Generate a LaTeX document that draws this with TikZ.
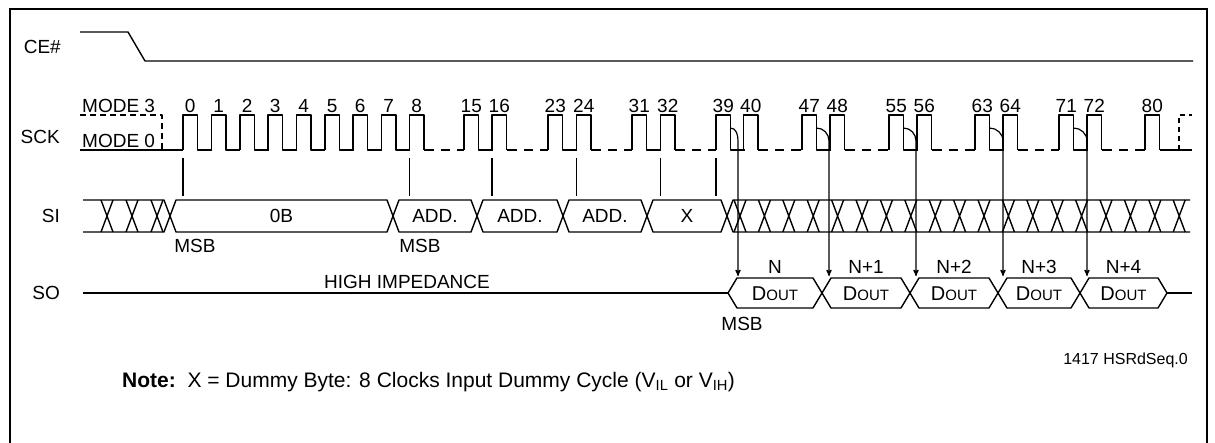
\documentclass[tikz,border=0pt]{standalone}
\usepackage{fontspec}
\setmainfont{Liberation Sans}
\usetikzlibrary{arrows}
\newcommand{\doutlabel}{{\fontsize{20}{22}\selectfont D}{\fontsize{15}{17}\selectfont OUT}}
\tikzset{
x=1pt, y=-1pt, % one unit per pixel of the sheet, y runs downwards
>=stealth', % small filled heads on the clock-to-output arrows
wave/.style={line width=1.4pt, line join=round}, % signal traces
gapline/.style={wave, dash pattern=on 10pt off 7pt on 9pt off 7pt}, % skipped clocks
txt/.style={font=\fontsize{19}{22}\selectfont, inner sep=0pt}, % labels
}

\begin{document}
\begin{tikzpicture}
\useasboundingbox (0,0) rectangle (1215,442);
\draw[line width=1.5pt] (10,9) rectangle (1207,470);

% signal names
\node[txt, anchor=east] (ce) at (61,47) {CE\#};
\node[txt, anchor=east] (sck) at (60,137) {SCK};
\node[txt, anchor=east] (si) at (60,216) {SI};
\node[txt, anchor=east] (so) at (60,293) {SO};

% CE#
\draw[wave] (80,32) -- (128,32) -- (145,61) -- (1193,61);

% SCK
\node[txt, anchor=base west] (mthree) at (82,112) {MODE 3};
\node[txt, anchor=base west] (mzero) at (82,147) {MODE 0};
\draw[wave, dash pattern=on 6pt off 4pt] (80,115) -- (162,115) -- (162,150);
\draw[wave] (80,150) -- (183,150) (1159.5,150) -- (1192,150);
\foreach \xa/\xb in {424/464, 506.5/548, 591/632, 675/716, 758/802, 844.5/889, 931.5/975, 1017.5/1059, 1101.5/1145}
  \draw[gapline] (\xa,150) -- (\xb,150);
% rising edge / label / low tail up to the next rising edge
\foreach \r/\n/\tl in {183/0/14, 211.5/1/14, 240/2/14, 268/3/14, 296.5/4/14, 325/5/14, 353/6/14, 381.5/7/14, 409.5/8/0,
    464/15/14, 492/16/0, 548/23/14, 576.5/24/0, 632/31/14, 660.5/32/0, 716/39/14, 743.5/40/0, 802/47/14, 830/48/0,
    889/55/14, 917/56/0, 975/63/14, 1003/64/0, 1059/71/14, 1087/72/0, 1145/80/0} {
  \draw[wave] (\r,150) -- (\r,115) -- ({\r+14.5},115) -- ({\r+14.5},150) -- ({\r+14.5+\tl},150);
  \node[txt, anchor=base] (ck\n) at ({\r+7.25},112) {\n};
}
\draw[wave, dash pattern=on 5pt off 4pt] (1179,150) -- (1179,115) -- (1192,115);

% clock edges that latch SI
\foreach \xm in {183, 409.5, 492, 576.5, 660.5, 716}
  \draw[line width=1.2pt] (\xm,158) -- (\xm,196);

% SI
\draw[wave] (83,200) -- (164,200) -- (170,216) -- (164,232) -- (83,232);
\foreach \cx in {107, 132, 157}
  \draw[wave] (\cx-6,200) -- (\cx+6,232) (\cx-6,232) -- (\cx+6,200);
\foreach \xa/\xb/\lab [count=\i] in {170/393/0B, 393/477/ADD., 477/563/ADD., 563/647/ADD., 647/727/X} {
  \draw[wave] (\xa,216) -- (\xa+6,200) -- (\xb-6,200) -- (\xb,216) -- (\xb-6,232) -- (\xa+6,232) -- cycle;
  \node[txt] (byte\i) at ({(\xa+\xb)/2},216) {\lab};
}
\draw[wave] (1190,200) -- (733,200) -- (727,216) -- (733,232) -- (1190,232);
\foreach \kk in {0,...,18}
  \draw[wave] ({740+24.4*\kk-6},200) -- ({740+24.4*\kk+6},232) ({740+24.4*\kk-6},232) -- ({740+24.4*\kk+6},200);
\node[txt, anchor=base] (msba) at (195,252) {MSB};
\node[txt, anchor=base] (msbb) at (420,252) {MSB};

% SO
\draw[wave] (83,293) -- (728,293);
\node[txt, anchor=base] (hiz) at (407,288) {HIGH IMPEDANCE};
\foreach \xa/\xb/\lab [count=\i from 0] in {728/822/N, 822/910/N+1, 910/998/N+2, 998/1080/N+3, 1080/1167/N+4} {
  \draw[wave] (\xa,293) -- (\xa+9,278) -- (\xb-9,278) -- (\xb,293) -- (\xb-9,308) -- (\xa+9,308) -- cycle;
  \node[txt, anchor=base] (nout\i) at ({(\xa+\xb)/2},273) {\lab};
  \node[inner sep=0pt] (dout\i) at ({(\xa+\xb)/2},294) {\doutlabel};
}
\draw[wave] (1167,293) -- (1192,293);
\node[txt, anchor=base] (msbc) at (742,330) {MSB};

% falling edges to output
\foreach \i/\f/\l in {0/730.5/738, 1/816.5/829, 2/903.5/916, 3/989.5/1003, 4/1073.5/1087} {
  \coordinate (edge\i) at (\f,128);
  \coordinate (tip\i) at (\l,276);
  \draw[->, line width=1.2pt] (edge\i) to[out=0, in=90] (\l,141) -- (tip\i);
}

% notes
\node[anchor=base west, inner sep=0pt, font=\fontsize{21}{25}\selectfont] (note) at (122,387)
  {\textbf{Note:}~~X = Dummy Byte: 8 Clocks Input Dummy Cycle (V\textsubscript{IL} or V\textsubscript{IH})};
\node[anchor=base east, inner sep=0pt, font=\fontsize{16}{19}\selectfont] (figid) at (1188,364) {1417 HSRdSeq.0};
\end{tikzpicture}
\end{document}
